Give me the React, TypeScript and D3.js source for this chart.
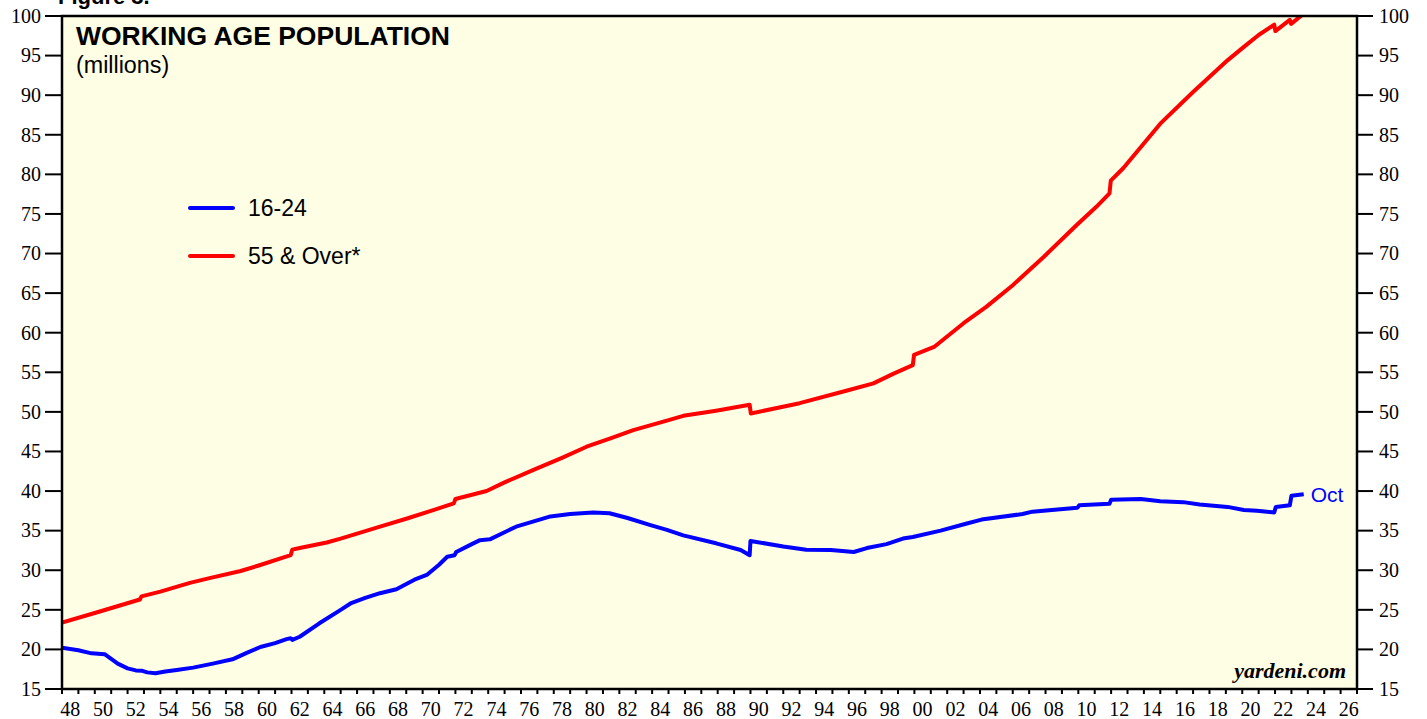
import React, { useEffect } from "react";
import * as d3 from "d3";

// ---- Data ----
const youthDates = [
  1948.0, 1949.0, 1949.8, 1950.6, 1951.0, 1951.4, 1952.0, 1952.5, 1952.9, 1953.2, 1953.7,
  1954.3, 1955.0, 1956.0, 1957.2, 1958.4, 1959.2, 1960.1, 1961.0, 1961.7, 1961.95, 1962.05,
  1962.5, 1963.7, 1965.0, 1965.6, 1966.5, 1967.4, 1968.4, 1969.5, 1970.25, 1971.0, 1971.5,
  1971.95, 1972.05, 1973.0, 1973.5, 1974.1, 1975.0, 1975.7, 1977.8, 1979.0, 1980.4, 1981.4,
  1982.5, 1983.9, 1984.9, 1985.9, 1987.9, 1989.4, 1989.95, 1990.0, 1992.0, 1993.4, 1994.9,
  1996.3, 1997.1, 1998.3, 1999.3, 1999.9, 2001.6, 2003.2, 2004.1, 2006.6, 2007.2, 2008.9,
  2009.95, 2010.05, 2011.9, 2012.0, 2013.8, 2015.0, 2016.4, 2017.4, 2019.1, 2020.1, 2020.9,
  2021.95, 2022.05, 2022.9, 2023.0, 2023.75,
];
const youthValues = [
  20.2, 19.9, 19.5, 19.4, 18.8, 18.2, 17.6, 17.35, 17.3, 17.1, 17.0,
  17.2, 17.4, 17.7, 18.2, 18.75, 19.5, 20.3, 20.8, 21.3, 21.4, 21.2,
  21.6, 23.3, 25.0, 25.8, 26.5, 27.1, 27.6, 28.8, 29.4, 30.7, 31.7,
  31.9, 32.3, 33.3, 33.8, 33.9, 34.8, 35.5, 36.8, 37.1, 37.3, 37.2,
  36.6, 35.7, 35.1, 34.4, 33.4, 32.55, 31.9, 33.7, 33.0, 32.6, 32.55,
  32.3, 32.8, 33.3, 34.0, 34.2, 35.0, 35.9, 36.4, 37.1, 37.4, 37.7,
  37.9, 38.2, 38.4, 38.9, 39.0, 38.7, 38.6, 38.3, 38.0, 37.6, 37.5,
  37.3, 38.0, 38.2, 39.4, 39.6,
];

const olderDates = [
  1948.0, 1950.0, 1952.75, 1952.85, 1954.0, 1955.8, 1957.0, 1958.9, 1960.0, 1961.95, 1962.05,
  1962.5, 1964.15, 1965.0, 1967.4, 1969.0, 1970.65, 1971.9, 1972.0, 1973.9, 1975.0, 1976.8,
  1978.5, 1980.0, 1981.5, 1982.85, 1984.9, 1985.9, 1987.9, 1989.95, 1990.02, 1993.0, 1995.9,
  1997.5, 1998.7, 1999.9, 1999.98, 2001.2, 2003.0, 2004.4, 2006.0, 2007.9, 2009.9, 2011.1,
  2011.9, 2011.98, 2012.75, 2015.0, 2017.0, 2019.1, 2020.1, 2021.0, 2021.95, 2022.02, 2022.9,
  2022.98, 2023.75,
];
const olderValues = [
  23.4, 24.6, 26.3, 26.7, 27.3, 28.4, 29.0, 29.9, 30.6, 31.9, 32.6,
  32.8, 33.5, 34.0, 35.5, 36.5, 37.6, 38.45, 39.0, 40.0, 41.1, 42.7,
  44.2, 45.6, 46.7, 47.7, 48.9, 49.5, 50.15, 50.9, 49.8, 51.1, 52.7,
  53.6, 54.8, 55.9, 57.2, 58.2, 61.2, 63.3, 66.0, 69.6, 73.6, 75.9,
  77.6, 79.2, 80.8, 86.4, 90.4, 94.4, 96.1, 97.6, 98.9, 98.1, 99.5,
  99.0, 100.3,
];

const yTickValues = [15, 20, 25, 30, 35, 40, 45, 50, 55, 60, 65, 70, 75, 80, 85, 90, 95, 100];
const xTickYears = d3.range(1948, 2028);
const xLabelYears = d3.range(1948, 2027, 2);

const seriesNames = ["16-24", "55 & Over*"];
const seriesColors = ["#0000FF", "#FF0000"];

const W = 1427;
const H = 719;
const M = { left: 62, right: 1357, top: 16, bottom: 689 };

export default function App() {
  useEffect(() => {
    document.body.style.margin = "0";
  }, []);

  const x = d3.scaleLinear().domain([1948, 2027]).range([M.left, M.right]);
  const y = d3.scaleLinear().domain([15, 100]).range([M.bottom, M.top]);

  const line = d3
    .line<[number, number]>()
    .x((d) => x(d[0]))
    .y((d) => y(d[1]));

  const youth: [number, number][] = youthDates.map((d, i) => [d, youthValues[i]]);
  const older: [number, number][] = olderDates.map((d, i) => [d, olderValues[i]]);

  const serif = "'Liberation Serif', 'Times New Roman', serif";
  const sans = "'Liberation Sans', Arial, sans-serif";

  const lastYouth = youth[youth.length - 1];

  return (
    <svg width={W} height={H} style={{ display: "block", background: "#fff" }}>
      <defs>
        <clipPath id="plotclip">
          <rect x={M.left} y={M.top} width={M.right - M.left} height={M.bottom - M.top} />
        </clipPath>
      </defs>

      {/* partial figure caption, cut at the top edge as in the reference */}
      <text x={58} y={4} fontFamily={sans} fontWeight="bold" fontSize={22} fill="#000">
        Figure 3.
      </text>

      <rect
        x={M.left}
        y={M.top}
        width={M.right - M.left}
        height={M.bottom - M.top}
        fill="#FEFEE4"
      />

      {/* lines */}
      <g clipPath="url(#plotclip)">
        <path d={line(older) || ""} fill="none" stroke={seriesColors[1]} strokeWidth={4} strokeLinejoin="round" />
        <path d={line(youth) || ""} fill="none" stroke={seriesColors[0]} strokeWidth={4} strokeLinejoin="round" />
      </g>

      {/* frame */}
      <rect
        x={M.left}
        y={M.top}
        width={M.right - M.left}
        height={M.bottom - M.top}
        fill="none"
        stroke="#000"
        strokeWidth={2.5}
      />

      {/* Y axes */}
      {yTickValues.map((v) => (
        <g key={"y" + v}>
          <line x1={M.left - 17} x2={M.left} y1={y(v)} y2={y(v)} stroke="#000" strokeWidth={2} />
          <line x1={M.right} x2={M.right + 16} y1={y(v)} y2={y(v)} stroke="#000" strokeWidth={2} />
          <text x={41} y={y(v)} dy="0.34em" textAnchor="end" fontFamily={serif} fontSize={20} fill="#000">
            {v}
          </text>
          <text x={1379} y={y(v)} dy="0.34em" textAnchor="start" fontFamily={serif} fontSize={20} fill="#000">
            {v}
          </text>
        </g>
      ))}

      {/* X axis */}
      {xTickYears.map((yr) => (
        <line key={"xt" + yr} x1={x(yr)} x2={x(yr)} y1={M.bottom} y2={M.bottom + 5} stroke="#000" strokeWidth={2} />
      ))}
      {xLabelYears.map((yr) => (
        <text
          key={"xl" + yr}
          x={x(yr + 0.5)}
          y={716}
          textAnchor="middle"
          fontFamily={serif}
          fontSize={20}
          fill="#000"
        >
          {String(yr % 100).padStart(2, "0")}
        </text>
      ))}

      {/* Title */}
      <text x={76} y={45} fontFamily={sans} fontWeight="bold" fontSize={26.5} fill="#000">
        WORKING AGE POPULATION
      </text>
      <text x={76} y={73} fontFamily={sans} fontSize={23.3} fill="#000">
        (millions)
      </text>

      {/* Legend */}
      {seriesNames.map((name, i) => (
        <g key={name}>
          <line
            x1={190}
            x2={233}
            y1={208 + i * 48}
            y2={208 + i * 48}
            stroke={seriesColors[i]}
            strokeWidth={4}
            strokeLinecap="round"
          />
          <text x={248} y={216 + i * 47.5} fontFamily={sans} fontSize={23} fill="#000">
            {name}
          </text>
        </g>
      ))}

      {/* End label */}
      <text x={x(lastYouth[0]) + 7} y={y(lastYouth[1]) + 8} fontFamily={sans} fontSize={21} fill="#0000FF">
        Oct
      </text>

      {/* Source */}
      <text
        x={1346}
        y={678}
        textAnchor="end"
        fontFamily={serif}
        fontWeight="bold"
        fontStyle="italic"
        fontSize={22}
        fill="#000"
      >
        yardeni.com
      </text>
    </svg>
  );
}
